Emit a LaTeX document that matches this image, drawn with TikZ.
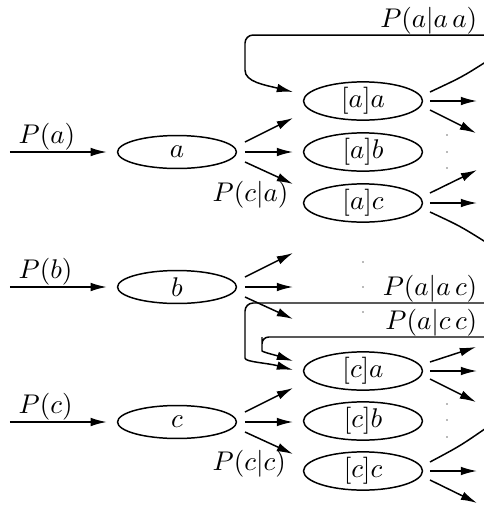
\documentclass[tikz,border=0pt]{standalone}
\usetikzlibrary{shapes.geometric,arrows.meta}

\begin{document}
\begin{tikzpicture}[x=0.37pt, y=-0.37pt, line width=0.55pt,
	state/.style={ellipse, draw, inner sep=0pt, minimum width=44pt, minimum height=12.2pt},
	link/.style={-{Latex[length=6pt,width=3.2pt]}},
	prob/.style={inner sep=0pt},
	tinydot/.style={circle, fill=black!55, inner sep=0pt, minimum size=0.7pt}]
	\useasboundingbox (0,0) rectangle (484,507);
	\clip (0,0) rectangle (484,507);
	\node[state] (a) at (177,152) {$a$};
	\node[state] (b) at (177,287) {$b$};
	\node[state] (c) at (177,422) {$c$};
	\node[state] (aa) at (363,101) {$[a]a$};
	\node[state] (ab) at (363,152) {$[a]b$};
	\node[state] (ac) at (363,203) {$[a]c$};
	\node[state] (ca) at (363,371) {$[c]a$};
	\node[state] (cb) at (363,421) {$[c]b$};
	\node[state] (cc) at (363,471) {$[c]c$};
	\node[prob, anchor=base west] (pa) at (18,143.5) {$P(a)$};
	\node[prob, anchor=base west] (pb) at (18,278.5) {$P(b)$};
	\node[prob, anchor=base west] (pc) at (18,413.5) {$P(c)$};
	\node[prob, anchor=base west] (pca) at (212,201) {$P(c|a)$};
	\node[prob, anchor=base west] (pcc) at (212,470) {$P(c|c)$};
	\node[prob, anchor=base east] (paaa) at (478,27) {$P(a|a\,a)$};
	\node[prob, anchor=base east] (paac) at (478,295) {$P(a|a\,c)$};
	\node[prob, anchor=base east] (pacc) at (478,329) {$P(a|c\,c)$};
	\coordinate (a0) at (10,152);
	\coordinate (b0) at (10,287);
	\coordinate (c0) at (10,422);
	\coordinate (a1) at (245,142);
	\coordinate (a2) at (245,152);
	\coordinate (a3) at (245,162);
	\coordinate (a4) at (293,118);
	\coordinate (a5) at (293,152);
	\coordinate (a6) at (293,184);
	\coordinate (b1) at (245,277);
	\coordinate (b2) at (245,287);
	\coordinate (b3) at (245,297);
	\coordinate (b4) at (293,253);
	\coordinate (b5) at (293,287);
	\coordinate (b6) at (293,319);
	\coordinate (c1) at (245,412);
	\coordinate (c2) at (245,422);
	\coordinate (c3) at (245,432);
	\coordinate (c4) at (293,388);
	\coordinate (c5) at (293,422);
	\coordinate (c6) at (293,454);
	\coordinate (aa1) at (430,92);
	\coordinate (aa2) at (430,101);
	\coordinate (aa3) at (430,110);
	\coordinate (aa5) at (477,101);
	\coordinate (aa6) at (476,133);
	\coordinate (ac1) at (430,193);
	\coordinate (ac2) at (430,203);
	\coordinate (ac3) at (430,212);
	\coordinate (ac4) at (477,170);
	\coordinate (ac5) at (477,203);
	\coordinate (ca1) at (430,362);
	\coordinate (ca2) at (430,371);
	\coordinate (ca3) at (430,379);
	\coordinate (ca4) at (476,347);
	\coordinate (ca5) at (477,371);
	\coordinate (ca6) at (476,402);
	\coordinate (cc1) at (430,462);
	\coordinate (cc2) at (430,471);
	\coordinate (cc3) at (430,480);
	\coordinate (cc5) at (477,471);
	\coordinate (cc6) at (477,503);
	\coordinate (aa-in) at (293,92);
	\coordinate (ca-in1) at (293,370);
	\coordinate (ca-in2) at (293,361);
	% inputs
	\draw[link, shorten >=3.7pt] (a0) -- (a);
	\draw[link, shorten >=3.7pt] (b0) -- (b);
	\draw[link, shorten >=3.7pt] (c0) -- (c);
	% first step
	\draw[link] (a1) -- (a4);
	\draw[link] (a2) -- (a5);
	\draw[link] (a3) -- (a6);
	\draw[link] (b1) -- (b4);
	\draw[link] (b2) -- (b5);
	\draw[link] (b3) -- (b6);
	\draw[link] (c1) -- (c4);
	\draw[link] (c2) -- (c5);
	\draw[link] (c3) -- (c6);
	% second step
	\draw[link] (aa2) -- (aa5);
	\draw[link] (aa3) -- (aa6);
	\draw[link] (ac1) -- (ac4);
	\draw[link] (ac2) -- (ac5);
	\draw[link] (ca1) -- (ca4);
	\draw[link] (ca2) -- (ca5);
	\draw[link] (ca3) -- (ca6);
	\draw[link] (cc2) -- (cc5);
	\draw[link] (cc3) -- (cc6);
	% loops back, cut at the right edge
	\draw[link, rounded corners=3pt] (aa1) .. controls (462,77) .. (492,58) -- (520,35) -- (245,35) -- (245,62) .. controls (245,82) and (265,85) .. (aa-in);
	\draw[link, rounded corners=3pt] (ac3) .. controls (460,226) .. (492,246) -- (520,303) -- (245,303) -- (245,350) .. controls (245,362) and (268,363) .. (ca-in1);
	\draw[link, rounded corners=2.5pt] (cc1) .. controls (460,446) .. (492,424) -- (520,337) -- (262,337) -- (262,344) .. controls (262,352) and (275,355) .. (ca-in2);
	% dots
	\node[tinydot] (abd1) at (447,135) {};
	\node[tinydot] (abd2) at (447,152) {};
	\node[tinydot] (abd3) at (447,168) {};
	\node[tinydot] (bd1) at (363,262) {};
	\node[tinydot] (bd2) at (363,287) {};
	\node[tinydot] (bd3) at (363,312) {};
	\node[tinydot] (cbd1) at (447,404) {};
	\node[tinydot] (cbd2) at (447,420) {};
	\node[tinydot] (cbd3) at (447,437) {};
\end{tikzpicture}
\end{document}
